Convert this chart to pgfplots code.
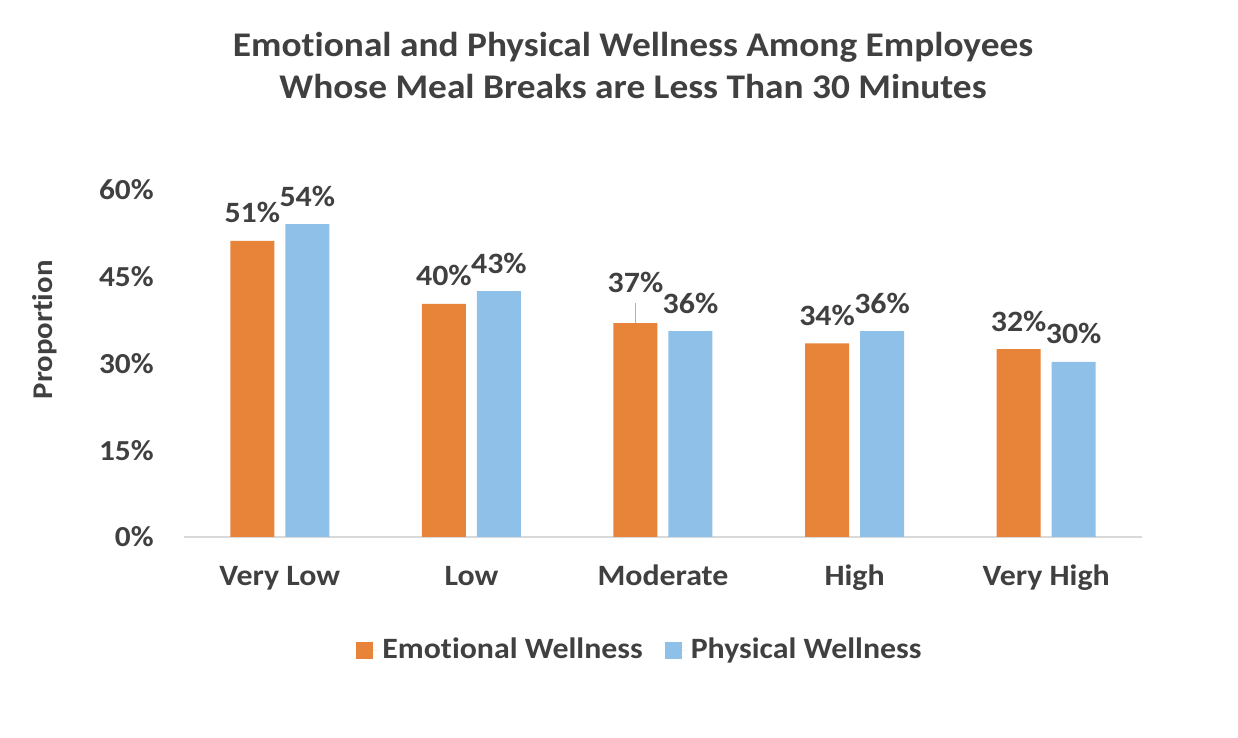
\documentclass[border=0pt]{standalone}
\usepackage{fontspec}
\setmainfont{Carlito}[FakeStretch=1.08, Ligatures=NoCommon]
\usepackage{pgfplots}
\usepackage{pgfplotstable}
\pgfplotsset{compat=1.18}
\definecolor{EmoOrange}{HTML}{E8833A}
\definecolor{PhysBlue}{HTML}{8EC0E8}
\definecolor{TextGray}{HTML}{404040}
\definecolor{AxisGray}{HTML}{D9D9D9}

% x = category index, val = bar height, lab = printed label, dy = extra label lift (pt)
\pgfplotstableread{
x val lab dy
0 51.2 51 0
1 40.3 40 0
2 37.0 37 6.5
3 33.5 34 0
4 32.5 32 0
}\emotional
\pgfplotstableread{
x val lab dy
0 54.1 54 0
1 42.5 43 0
2 35.6 36 0
3 35.6 36 0
4 30.3 30 0
}\physical

\begin{document}
\begin{tikzpicture}
\path[use as bounding box] (-92pt,-100.5pt) rectangle (527pt,268.5pt);
\node[font=\bfseries\fontsize{17.3}{20}\selectfont, text=TextGray, anchor=base] at (224.5pt,240pt) {Emotional and Physical Wellness Among Employees};
\node[font=\bfseries\fontsize{17.3}{20}\selectfont, text=TextGray, anchor=base] at (224.5pt,219pt) {Whose Meal Breaks are Less Than 30 Minutes};
\begin{axis}[
    at={(0pt,0pt)}, anchor=south west,
    scale only axis,
    width=479pt, height=173.5pt,
    ybar, bar width=22pt,
    xmin=-0.5, xmax=4.5,
    ymin=0, ymax=60,
    xtick={0,1,2,3,4},
    xticklabels={Very Low, Low, Moderate, High, Very High},
    ytick={0,15,30,45,60},
    yticklabel={\pgfmathprintnumber{\tick}\%},
    /pgf/number format/assume math mode=true,
    separate axis lines,
    axis x line*=bottom, axis y line*=left,
    x axis line style={draw=AxisGray, line width=0.8pt, -},
    y axis line style={draw=none},
    major tick length=0pt,
    tick style={draw=none},
    xticklabel style={font=\bfseries\fontsize{14.75}{17}\selectfont, text=TextGray, anchor=base, yshift=-24.5pt},
    yticklabel style={font=\bfseries\fontsize{14.5}{17}\selectfont, text=TextGray, anchor=east, inner sep=0pt, xshift=-15pt},
    ylabel={Proportion},
    every axis y label/.style={at={(axis description cs:-0.145,0.597)}, rotate=90, anchor=center,
        font=\bfseries\fontsize{14.25}{16}\selectfont, text=TextGray},
    point meta=explicit,
    visualization depends on={\thisrow{dy} \as \dy},
    nodes near coords={\pgfmathprintnumber[fixed,precision=0]{\pgfplotspointmeta}\%},
    every node near coord/.append style={font=\bfseries\fontsize{14.75}{17}\selectfont, text=TextGray,
        anchor=base, inner sep=0pt, yshift={(9+\dy)*1pt}},
    legend style={at={(0.477,-0.326)}, anchor=center, draw=none, fill=none,
        legend columns=2, font=\bfseries\fontsize{14.75}{17}\selectfont, text=TextGray,
        /tikz/every even column/.append style={column sep=9pt}},
    legend image code/.code={\fill[#1] (0pt,-4.25pt) rectangle (8.5pt,4.25pt);
        \path (0pt,0pt) -- (11pt,0pt);},
]
\addplot[fill=EmoOrange, draw=none, bar shift=-13.75pt] table[x=x, y=val, meta=lab] {\emotional};
\addplot[fill=PhysBlue, draw=none, bar shift=13.75pt] table[x=x, y=val, meta=lab] {\physical};
\legend{Emotional Wellness, Physical Wellness}
\draw[gray!60, line width=0.6pt] ([xshift=-13.75pt]axis cs:2,37) -- ([xshift=-13.75pt,yshift=10pt]axis cs:2,37);
\end{axis}
\end{tikzpicture}
\end{document}
